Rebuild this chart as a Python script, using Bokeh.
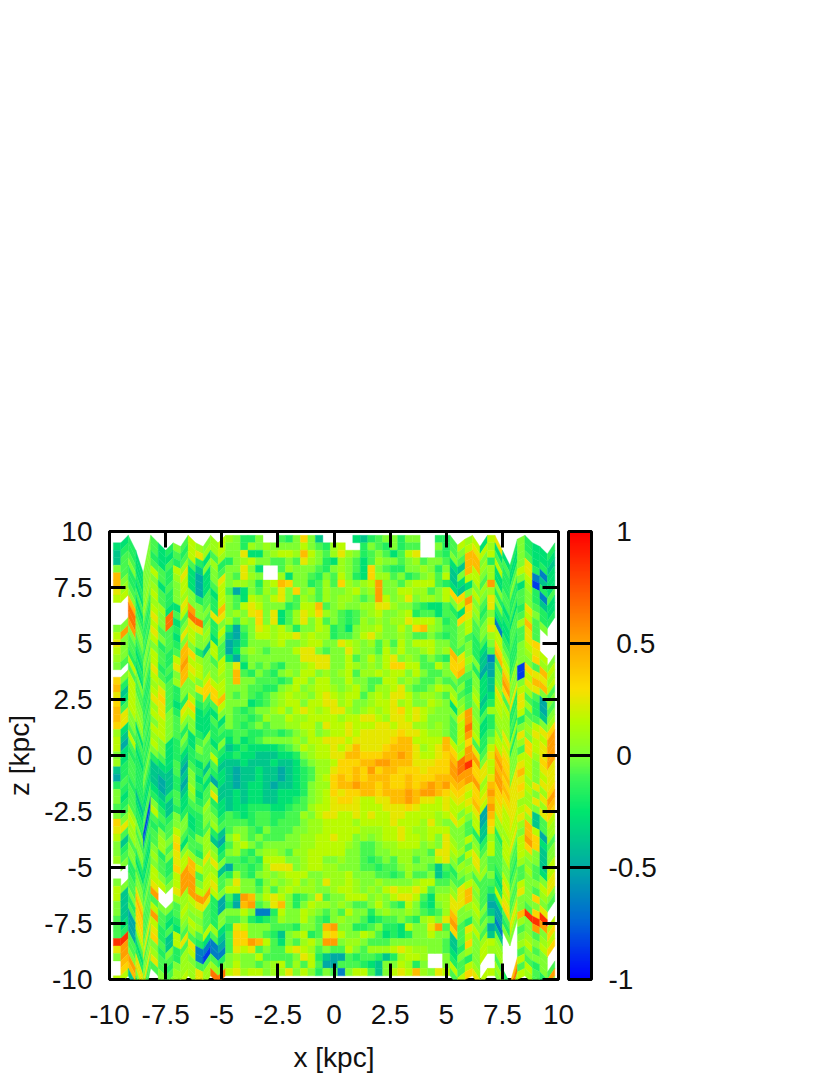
import numpy as np
from bokeh.embed import file_html
from bokeh.resources import INLINE
from bokeh.plotting import figure
from bokeh.models import (ColumnDataSource, LinearColorMapper, ColorBar, FixedTicker,
                          LinearAxis, Range1d)

# value levels read off the colour scale, one letter per cell, "." = no data
levels = dict(a=-.85, b=-.65, c=-.5, d=-.38, e=-.27, f=-.17, g=-.08, h=0, i=.08, j=.16,
              k=.25, l=.33, m=.42, n=.52, o=.65, p=.85)
rows = [
"eefehgefhg jihijihffh ..gfhlhd.. ..edfghhfh h..ffgjije jkefhfeef",
"dffehgeegf jkiijhhfih ihhhhjhgfi j..fhgfhfg g..hfghjkj iegehfeee",
"dggehfegfg jfegihhkee hijjimjhgi kihfghgegj k..gfhgmmh jgfehgefd",
"hghfhggfji gdhiffhijh hgghgkihfe ihgegihhgh ighhgedmmi fjfghkfbe",
"mgfehjgfik ecehghhkhe ..gihhhgfh ihgelhgffh hihfhdhmjh iefhjkbde",
"mhfgiheghj ecehkhgkih ..iehhgfhg jhfeliighf ghigjdejjg iegfhjafe",
"kigehigfhj ecegjhiihf ijmlhhfgig lihijnhhgi jjjgfedehi nhgfeifbg",
"jjhfgjgfhi hfgejgcehg ihkhlhigih hijhinhhjj iighjllhjh ifegghfde",
"..mgfiieek hhgfjhgeji hjkhgihgih iihghnjhik hiihjhjnhg khfeghgfe",
"..ohfjhogj nhhfmhgjkj hhhfgjjmgh ihhiikkihh gfeegfelif kfegfkhff",
"..ohgkhoeg oogkkhihkl hkegikjlih gfghijhhij fggegglkhg heeggjgh.",
"hhngfjggfh kkhfhigihl hkegikhjgh gfgihihiik jjjhfghjgh jbfgimg..",
"jnhfhkhgek jhifjfcghk jijhfhhjif gehiijhhjh lmihgghjgh kjgfgkg..",
"khgehjfgfh jhhehdcfhj jijjkijiif gghjkihhih gghgfghgfg ijhfgkl..",
"jhgfghgfgm hfdjgcdfhh hijhhijjhh kjihigigjh jjjhhgghfe hljfhjkj.",
"ihfehjgfjm lihjgcehih ghhhjkkhgh hkihhgjhjh hijhimkhfd gmkghilih",
"hgjhgjfgkn jjhgjecghh hhhhhkkkkh hjghjhjkhi hghgfllihd bgmihhgmj",
"..ggfkgfhm kjhhjhkehg hgfhhijkkh hjihihjllj jggjhlmhfc chnhalkki",
"lhjgfjigim jhjhihmgfh gfhihjjhih ijgiijijjh jhgghhgghe chlhajmmj",
"mfjhfikgfh hkljjhmhhg ggfgjjhjjh hjhhggjjhi hgghgghfhe digkhkkhg",
"kdjhgjlgfh hglljhhhgg ffhijhijji hijhgiijkh gghjiigfie dkjfjigch",
"lejifkkgef jfglmhghgf ghijiihjkj ijjgijikkj hiihgjhgjd ejifkgfcg",
"mgjhgikhfk lefgjhhhef ghijjhjjkk ijhhijjkij hhjiheighe fjigkifdh",
"mkhegjjhgj jeeehhgfgh hijhjkjijk kihijijklj kjihhhknhg iiifjgghi",
"lkhgfhjhgh heegehggfg ihhjiijjjj ijjkkjikkj kjhhhgjnie fikifhjkl",
"iegfgjjhgf hfefghgfgh ghhiijjhkj jkjjjkkjkk iihihgjoie fhjfhikjn",
"jdjefihefh eghfffggff ggfghijhij jkjkkkkklk kjiihgjnjf gjkhkhjkn",
"jcgfgjhefg ehgehegefg hhhhihjjkk kjkkkkklmm jjjjmjilgf hjlhiljkn",
"heffhhgefe fgggfdefee eefghjijjk jkmkkklmmm kijkmljnkg jmlhgliln",
"iegfgfeegd fegjeefeed ddeefhijjk kmmlllmmnm kjjklmonnh knmhjjhkk",
"dfgffdddgc gfdgdddedd deddeghiij lllmmnnmmm kkkllnoplk jmlkkjhjk",
"cfgfedcdfd hegfedcdde ddcdefgiik llmlnlmmll lklllnnnlk jnmkmjhkk",
"fgfdedcdfc hfecedcdde ddcdefgijl mlmlmmmllm lllmmmmnni knlkkikil",
"hfgegedfgd ieghddcdee dcddefhiil mmnmmlmllm lmnmnllklj mlkkljhkn",
"hegfgfedge hfgkddedee ddeeefhijl kllmmlmmmn mnnmlkkjlk nljkkikim",
"gfgfahfdfe ggifededee ddeefghijk llkjjkkmmn mkkjkjjkmj mkjkiihkl",
"hgihbjgfhf ffhgedeeff feefggijjk kkkjjjkkkl kjjjkjhjkc nkjjjkdgj",
"lhjgfgfghh efhhfgfefg gffggihjkk jjkjkjjkkj jjjijkjhjc miijkidgi",
"kkihgfhgjh efgiggggfg gfggghiijj jjijjjjkjj jikihhhgjd lijkimjci",
"jgihfgihkg fhifdghhgf hggghhiijj jjjiiijjkj iijjjhhgfd kfjhhmleg",
"hdgfegigle ggidchjhgh ggghhiijjk jjhihijjkj jijhkihjhf igjgjnldh",
"hfheehfhkh gfihegijhg hhhhhiijjj jihgghiijj jhihkjigig jghgjlhdh",
"ighggigfkj ihkifhigfh iihgiijjjj jhhgghhiii hhgkkigjkh jghfjihdj",
".hfhfhgflj mjikhggfgf jjjhhijjhh ihhgfghgii ghhjkhihkh ggjgihgej",
"..fhgjhgjn mgiidcggfg ikkkhijjii hhhggfgghi hhgdgfhiii gfkhgighk",
"h.gkhjjhjn nhjjgfigfh ihijjjhhii ijhhhggfgi gghdfgghgg hejgghhjk",
"jhgmgk..kn njjkghkhhf hihijhihki ijihhihhhh ijjgghkjig gfkgjhgih",
"jdhlgn..ii nnnjhjjhhg igijiiihhi jjihihjkjj kjghhikmhg fjlhkhlhg",
"hdflgghhgi jkkfcgdnmh jkjhfghkgh hjjjhihjkk jgeiikkmig degkhhhk.",
"hdgkgjgfgj iigfcfcmng hkmhfhjiih ihgghjhgfj hfehikhijh ccfjhglp.",
"gdcjhngefi hhgfhhhjhb bfjhhjihgh gjhhfhihhi hgfgimhhig dchhmppnj",
"gecgkjfgeh jigfhgghfe fgihhjhgfh ihhgefgghg fijhkngfhh gb..ihnhl",
"gfcegkfdjg igjiefkjhh hgggfhhgmn hhffghffej hhknglgkjg cd..ghgij",
"ppgfhlgdjk gfegdgllhh gfdhijfgkl jhhjigefef hhjhhdgjhi dh..hihjl",
"kngkhhfhfg kbbbcgllnm jgehgijhnn hiihggghhh hhhhgdflhj ji..ijgh.",
"hnhkkiggfi jbabbgkjkg hggjkjighg gjhgiiijkj iihhgehihj ii..ghhh.",
".mnhgkgfhi hgggfhihhj gggghkjfdc cgfggfdfij ji..hfgfh..gfmjgfhg",
".lmfgghgii ikiihhjhhg hijgigjgcc gggfedhhji fh..hjgji..ihogjgfn",
"jjdd..hhij ikioojkijj hiikhjhfhg bhjjgdhjkj mihkjgjlkj jhoijigjh",
]
# downward offset of each sampled column, in grid steps (the zig-zag at both sides)
col_offset = [1,1,0,2,5,0,1,2,1,1.5,0,1,1.5,0,1,0] + [0]*29 + [0,1.3,.5,0,1.5,0,0,2,4,.5,0,1,1.5,2.5,1]
x_ticks = [-10,-7.5,-5,-2.5,0,2.5,5,7.5,10]
x_labels = ["-10","-7.5","-5","-2.5","0","2.5","5","7.5","10"]
cb_ticks = [-1,-.5,0,.5,1]
cb_labels = ["-1","-0.5","\u00a00","\u00a00.5","\u00a01"]
x_title = "x [kpc]"
z_title = "z [kpc]"

stops = [-1,-.75,-.5,-.25,-.1,0,.15,.3,.5,1]
rgb = [(0,0,255),(0,100,215),(0,170,165),(0,230,110),(60,245,85),(125,255,50),(180,253,0),(252,222,0),(255,165,0),(255,0,0)]
t = np.linspace(-1,1,256)
palette = ["#%02x%02x%02x" % tuple(int(round(np.interp(v, stops, [c[k] for c in rgb]))) for k in range(3)) for v in t]
mapper = LinearColorMapper(palette=palette, low=-1, high=1)

step = 1/3
xs, ys, vals = [], [], []
for i, r in enumerate(rows):
    r = r.replace(" ", "")[:59].ljust(59, "h")
    for j, ch in enumerate(r):
        if ch == ".":
            continue
        x0, x1 = -9.83 + j*step, -9.83 + (j+1)*step
        a, b = col_offset[j]*step, col_offset[j+1]*step
        top = 9.83 - i*step
        xs.append([x0, x1, x1, x0])
        ys.append([top-a, top-b, top-step-b, top-step-a])
        vals.append(levels[ch])
src = ColumnDataSource(dict(xs=xs, ys=ys, v=vals))

FS = "28px"
FONT = "Liberation Sans"
p = figure(frame_width=449, frame_height=448, output_backend="svg", toolbar_location=None,
           x_range=Range1d(-10,10), y_range=Range1d(-10,10), x_axis_type=None, y_axis_type=None,
           min_border_left=109, min_border_top=531, min_border_bottom=80, min_border_right=170,
           background_fill_color="white")
p.grid.visible = False
p.patches("xs", "ys", source=src, fill_color={"field":"v","transform":mapper},
          line_color={"field":"v","transform":mapper}, line_width=0.4)
p.outline_line_color = "black"
p.outline_line_width = 3

ticker = FixedTicker(ticks=x_ticks)
overrides = {t_: l for t_, l in zip(x_ticks, x_labels)}
def axis(show, **kw):
    a = LinearAxis(ticker=ticker, major_tick_in=16, major_tick_out=0, minor_tick_line_color=None,
                   axis_line_color=None, major_tick_line_color="black", major_tick_line_width=3,
                   major_label_overrides=overrides if show else {t_: "" for t_ in x_ticks},
                   major_label_text_font=FONT, major_label_text_font_size=FS if show else "0px",
                   major_label_text_color="#111111", major_label_standoff=kw.pop("standoff", 0),
                   axis_label_text_font=FONT, axis_label_text_font_size=FS,
                   axis_label_text_font_style="normal", axis_label_text_color="#111111", **kw)
    return a
p.add_layout(axis(True, axis_label=x_title, axis_label_standoff=15, standoff=25), "below")
p.add_layout(axis(True, axis_label=z_title, axis_label_standoff=6, standoff=17), "left")
p.add_layout(axis(False), "above")
p.add_layout(axis(False), "right")

cb = ColorBar(color_mapper=mapper, ticker=FixedTicker(ticks=cb_ticks), width=23, height=448,
              major_label_overrides={t_: l for t_, l in zip(cb_ticks, cb_labels)},
              major_label_text_font=FONT, major_label_text_font_size=FS, major_label_text_color="#111111",
              major_tick_line_color="black", major_tick_line_width=3, major_tick_in=23, minor_tick_line_color=None,
              bar_line_color="black", bar_line_width=3, label_standoff=17, padding=0,
              location=(10, 0), border_line_color=None, background_fill_color=None)
p.add_layout(cb, "right")

open("out.html", "w").write(file_html(p, INLINE))
